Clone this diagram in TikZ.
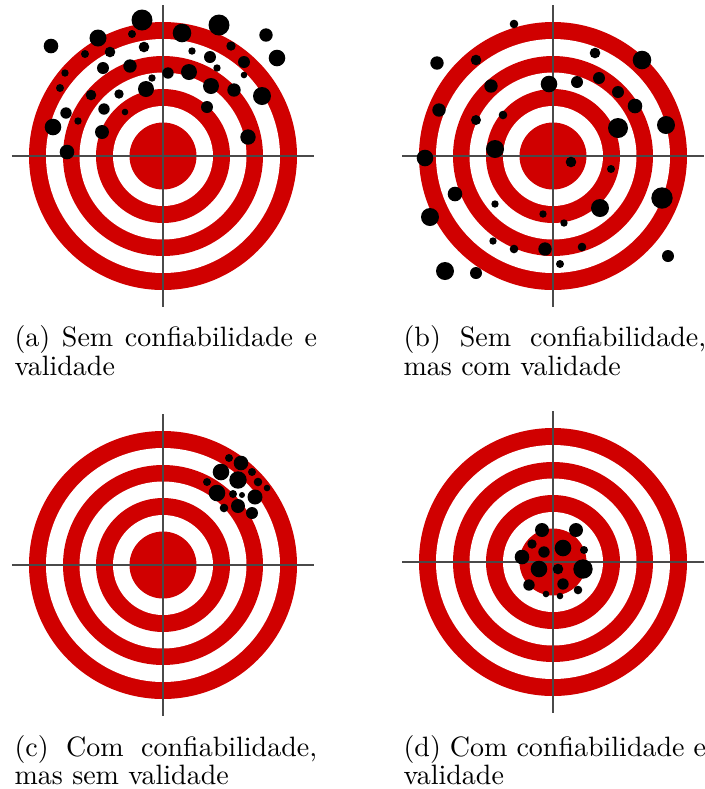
\documentclass[tikz,border=0pt]{standalone}
\definecolor{alvored}{HTML}{D00000}
\definecolor{miragray}{HTML}{4A4A4A}

\begin{document}
\begin{tikzpicture}[x=0.357pt,y=-0.357pt]
  \tikzset{
    mira/.style={draw=miragray,line width=0.55pt},
    furo/.style={fill=black},
    legenda/.style={anchor=base west,inner sep=0pt,text width=108pt,align=justify,font=\fontsize{10}{10.2}\selectfont},
    alvo/.pic={
      \foreach \rr/\col in {134/alvored,117/white,100/alvored,83.5/white,67/alvored,50/white,33.5/alvored}
        \fill[\col] (0,0) circle (\rr);
      \draw[mira] (-151,0) -- (151,0);
      \draw[mira] (0,-151) -- (0,151);
    }
  }
  \useasboundingbox (0,0) rectangle (705,789);
  % (a) spread everywhere
  \begin{scope}[shift={(163,156)}]
    \pic {alvo};
    \foreach \px/\py/\pr in {-21/-136/10.5, 56/-131/10.5, 19/-123/9.3, -65/-118/8.5, -112/-110/7.3,
        103/-121/6.7, 114/-98/8.3, -31/-122/4, -19/-109/5.3, -53/-104/5.3, -78/-102/4, 68/-110/4.7,
        29/-105/3.7, 47/-99/6, 81/-94/6, 54/-88/3.7, 81/-81/3.3, -98/-83/3.7, -103/-68/4, -60/-88/6,
        -33/-90/6.7, 5/-83/5.7, 26/-84/8, -11/-78/3.7, -17/-67/8, 48/-70/8, 71/-66/6.7, 99/-60/9,
        -72/-61/5.3, -44/-62/4.7, -59/-47/5.7, -38/-44/3.3, 44/-49/6, -97/-43/5.7, -85/-35/3.7,
        -110/-29/8.3, -61/-24/7, 85/-19/7.7, -96/-4/7.3}
      \fill[furo] (\px,\py) circle (\pr);
  \end{scope}
  % (b) spread round the centre
  \begin{scope}[shift={(553,156)}]
    \pic {alvo};
    \foreach \px/\py/\pr in {-39/-132/4.3, -116/-93/6.7, -77/-96/5.3, 42/-103/5.3, 89/-96/9.3,
        -62/-70/6.7, -4/-72/8.3, 24/-74/6, 46/-78/6, 65/-64/6, 82/-50/7.3, -114/-46/6.7, -77/-36/5,
        -50/-41/4.3, 65/-28/10, 113/-31/9, -58/-7/9, -128/2/8.3, 18/6/5.3, 58/13/4, -98/38/7.3,
        -123/61/9, -58/48/3.7, -10/58/3.7, 11/67/3.7, 47/52/9, 109/42/10.7, -60/85/3.7, -39/93/4.3,
        -8/93/6.7, 29/91/4.3, 115/100/6, -108/115/9, -77/117/6, 7/108/4}
      \fill[furo] (\px,\py) circle (\pr);
  \end{scope}
  % (c) tight group, off centre
  \begin{scope}[shift={(163,565)}]
    \pic {alvo};
    \foreach \px/\py/\pr in {66/-107/4, 78/-102/7.3, 58/-93/8.3, 75/-85/8.7, 89/-93/4, 95/-83/4.3,
        104/-77/3.3, 44/-83/4, 54/-72/8.3, 70/-71/4, 79/-70/3, 92/-68/7.5, 61/-57/4.3, 75/-59/7,
        89/-52/6}
      \fill[furo] (\px,\py) circle (\pr);
  \end{scope}
  % (d) tight group on the centre
  \begin{scope}[shift={(553,562)}]
    \pic {alvo};
    \foreach \px/\py/\pr in {-11/-32/7, 23/-32/7, -21/-18/4.7, -9/-10/5.7, 10/-14/8.3, 31/-12/4,
        -31/-5/7.3, -14/7/8.3, 5/7/5.3, 30/7/9.7, -24/23/5.7, 10/22/5.7, 25/28/4.3, -7/32/3.3,
        7/34/3.3}
      \fill[furo] (\px,\py) circle (\pr);
  \end{scope}
  \node[legenda] (capa) at (14,346.5) {(a) Sem confiabilidade e\linebreak validade};
  \node[legenda] (capb) at (403,346.5) {(b) Sem confiabilidade,\linebreak mas com validade};
  \node[legenda] (capc) at (14,756) {(c) Com confiabilidade,\linebreak mas sem validade};
  \node[legenda] (capd) at (403,756) {(d) Com confiabilidade e\linebreak validade};
\end{tikzpicture}
\end{document}
